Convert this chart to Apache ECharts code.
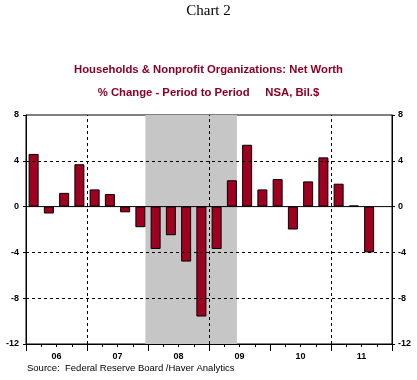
<!DOCTYPE html>
<html>
<head>
<meta charset="utf-8">
<script src="https://cdn.jsdelivr.net/npm/echarts@6/dist/echarts.min.js"></script>
<style>
html,body{margin:0;padding:0;background:#fff;}
#chart{width:417px;height:380px;}
</style>
</head>
<body>
<div id="chart"></div>
<script>
// Quarters 2006Q1 .. 2011Q4
var quarters = ['06Q1','06Q2','06Q3','06Q4','07Q1','07Q2','07Q3','07Q4',
                '08Q1','08Q2','08Q3','08Q4','09Q1','09Q2','09Q3','09Q4',
                '10Q1','10Q2','10Q3','10Q4','11Q1','11Q2','11Q3','11Q4'];
var yearLabels = ['06','07','08','09','10','11'];
// % change, period to period
var netWorthChange = [4.6,-0.6,1.2,3.7, 1.5,1.1,-0.5,-1.8,
                      -3.7,-2.5,-4.8,-9.6, -3.7,2.3,5.4,1.5,
                      2.4,-2.0,2.2,4.3, 2.0,0.1,-4.0,null];
var yTicks = [-12,-8,-4,0,4,8];
// Recession shading (in quarter units from start of 2006): mid-Dec 2007 to mid-Jun 2009
var recession = [7.83, 13.83];
// Dashed vertical grid positions (quarter boundaries)
var vGrid = [4, 12, 20];
var hGrid = [4, -4, -8];

var chart = echarts.init(document.getElementById('chart'), null, {renderer:'canvas'});
var lblFont = {color:'#000', fontFamily:'Liberation Sans, Arial, sans-serif', fontWeight:'bold', fontSize:9};
var dashed = {color:'#000', type:[3,3], width:1};

var markLineData = [];
vGrid.forEach(function(v){ markLineData.push({xAxis:v}); });
hGrid.forEach(function(v){ markLineData.push({yAxis:v}); });

var option = {
  backgroundColor:'#fff',
  animation:false,
  title:[
    {text:'Chart 2', left:'center', top:4, padding:0,
     textStyle:{fontFamily:'Liberation Serif, Times New Roman, serif', fontWeight:'normal', fontSize:15, color:'#000'}},
    {text:'Households & Nonprofit Organizations: Net Worth', left:'center', top:64, padding:0,
     textStyle:{fontFamily:'Liberation Sans, Arial, sans-serif', fontWeight:'bold', fontSize:11.3, color:'#8B0024'}},
    {text:'% Change - Period to Period     NSA, Bil.$', left:'center', top:87, padding:0,
     textStyle:{fontFamily:'Liberation Sans, Arial, sans-serif', fontWeight:'bold', fontSize:11.3, color:'#8B0024'}},
    {text:'Source:  Federal Reserve Board /Haver Analytics', left:27, top:363, padding:0,
     textStyle:{fontFamily:'Liberation Sans, Arial, sans-serif', fontWeight:'normal', fontSize:9.5, color:'#000'}}
  ],
  grid:{left:26, top:115, width:366, height:229, show:true, borderColor:'#000', borderWidth:1, backgroundColor:'transparent'},
  xAxis:[
    {type:'category', data:quarters, boundaryGap:true, position:'bottom',
     axisLine:{show:true, onZero:false, lineStyle:{color:'#000'}},
     axisTick:{show:true, interval:0, length:3, lineStyle:{color:'#000'}},
     axisLabel:{show:false}, splitLine:{show:false}},
    {type:'category', data:yearLabels, boundaryGap:true, position:'bottom',
     axisLine:{show:false, onZero:false},
     axisTick:{show:true, interval:0, length:7, lineStyle:{color:'#000'}},
     axisLabel:Object.assign({margin:8, interval:0}, lblFont), splitLine:{show:false}},
    {type:'value', min:0, max:quarters.length, show:false}
  ],
  yAxis:[
    {type:'value', min:-12, max:8, interval:4, position:'left',
     axisLine:{show:true, lineStyle:{color:'#000'}},
     axisTick:{show:true, length:3, lineStyle:{color:'#000'}},
     axisLabel:Object.assign({margin:7}, lblFont), splitLine:{show:false}},
    {type:'value', min:-12, max:8, interval:4, position:'right',
     axisLine:{show:true, lineStyle:{color:'#000'}},
     axisTick:{show:true, length:3, lineStyle:{color:'#000'}},
     axisLabel:Object.assign({margin:6}, lblFont), splitLine:{show:false}}
  ],
  series:[
    {type:'line', xAxisIndex:2, yAxisIndex:0, z:-1, data:[[0,0],[quarters.length,0]],
     showSymbol:false, symbol:'none', lineStyle:{width:0, opacity:0}, silent:true,
     markArea:{silent:true, itemStyle:{color:'#C6C6C6'},
       data:[[{xAxis:recession[0]},{xAxis:recession[1]}]]}},
    {type:'line', xAxisIndex:2, yAxisIndex:0, z:1, data:[[0,0],[quarters.length,0]],
     showSymbol:false, symbol:'none', lineStyle:{width:1, color:'#000'}, silent:true,
     markLine:{silent:true, symbol:['none','none'], label:{show:false}, lineStyle:dashed,
       data:markLineData}},
    {type:'bar', xAxisIndex:0, yAxisIndex:0, z:2, data:netWorthChange, barWidth:10,
     itemStyle:{color:'#A00020', borderColor:'#000', borderWidth:1}}
  ]
};
chart.setOption(option);
</script>
</body>
</html>
